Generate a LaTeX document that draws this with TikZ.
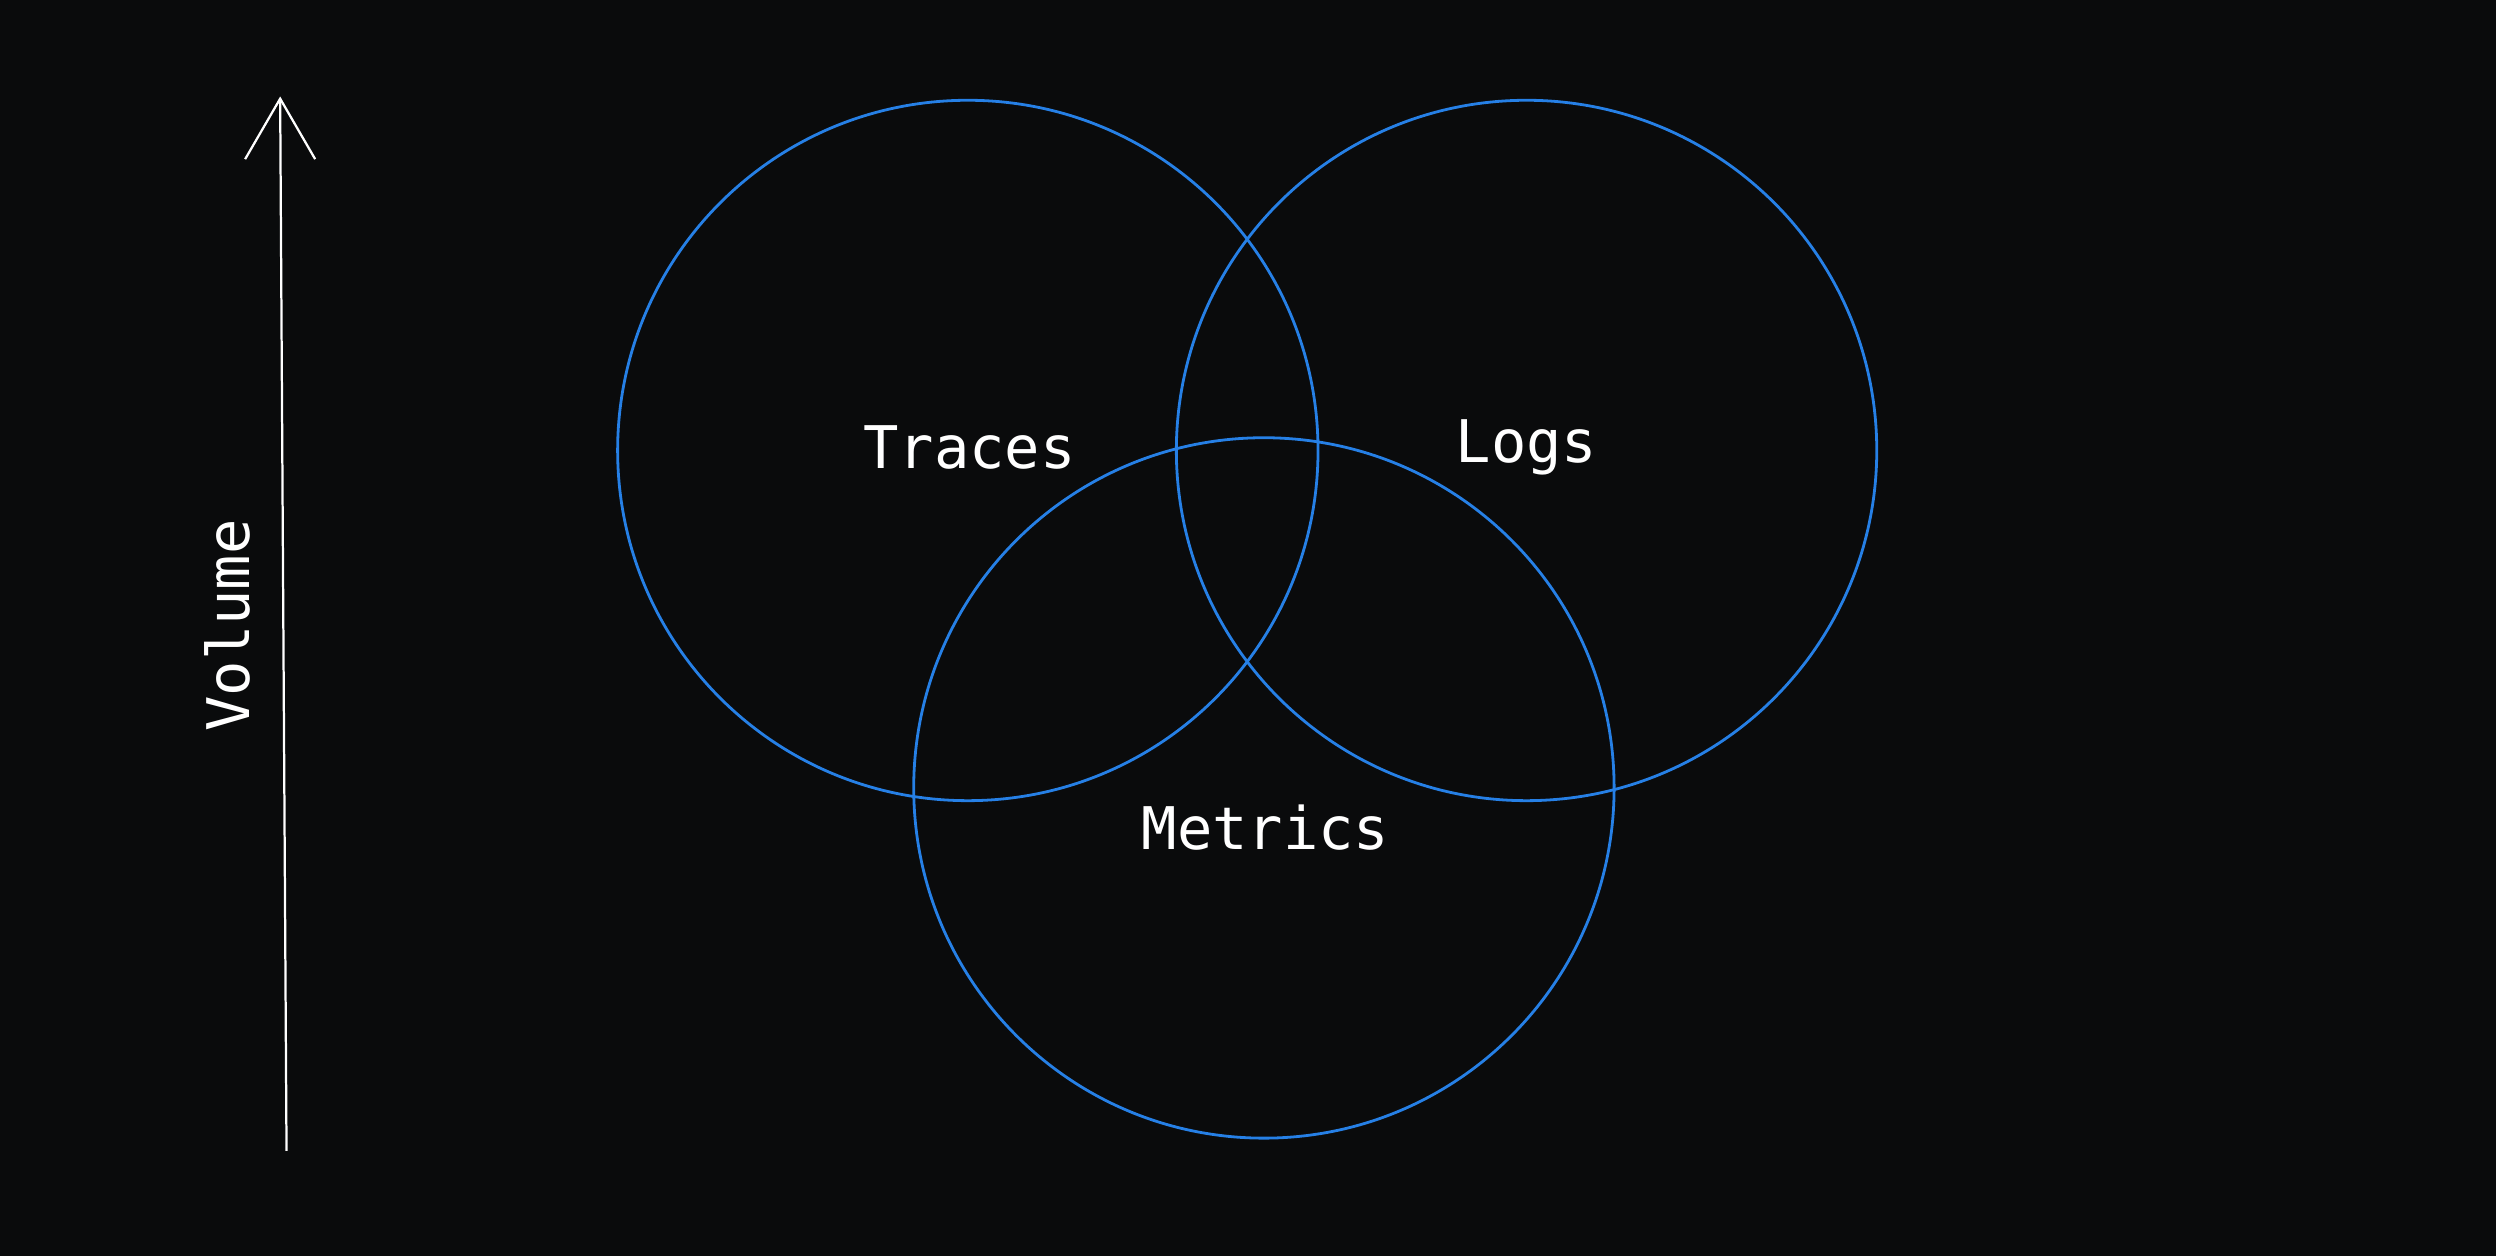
\documentclass[tikz,border=0pt]{standalone}
\usepackage{fontspec}
\setmonofont{DejaVu Sans Mono}
\definecolor{bg}{HTML}{0A0B0C}
\definecolor{vblue}{HTML}{2680E6}
\begin{document}
\begin{tikzpicture}[x=0.01cm,y=-0.01cm,
  ring/.style={draw=vblue,line width=0.5pt},
  lbl/.style={text=white,font=\ttfamily\fontsize{10.5}{12}\selectfont},
  axis/.style={draw=white,line width=0.4pt}]
\fill[bg] (0,0) rectangle (1568,789);
\useasboundingbox (0,0) rectangle (1568,789);
\draw[ring] (608,283) circle (220);
\draw[ring] (959,283) circle (220);
\draw[ring] (794,495) circle (220);
\node[lbl] (traces) at (609,281) {Traces};
\node[lbl] (logs) at (959,281) {Logs};
\node[lbl] (metrics) at (795,520) {Metrics};
\coordinate (bot) at (180,723);
\coordinate (top) at (176,62);
\coordinate (hl) at (154,100);
\coordinate (hr) at (198,100);
\draw[axis] (bot) -- (top);
\draw[axis] (hl) -- (top) -- (hr);
\node[lbl,rotate=90] (vol) at (143,393) {Volume};
\end{tikzpicture}
\end{document}
